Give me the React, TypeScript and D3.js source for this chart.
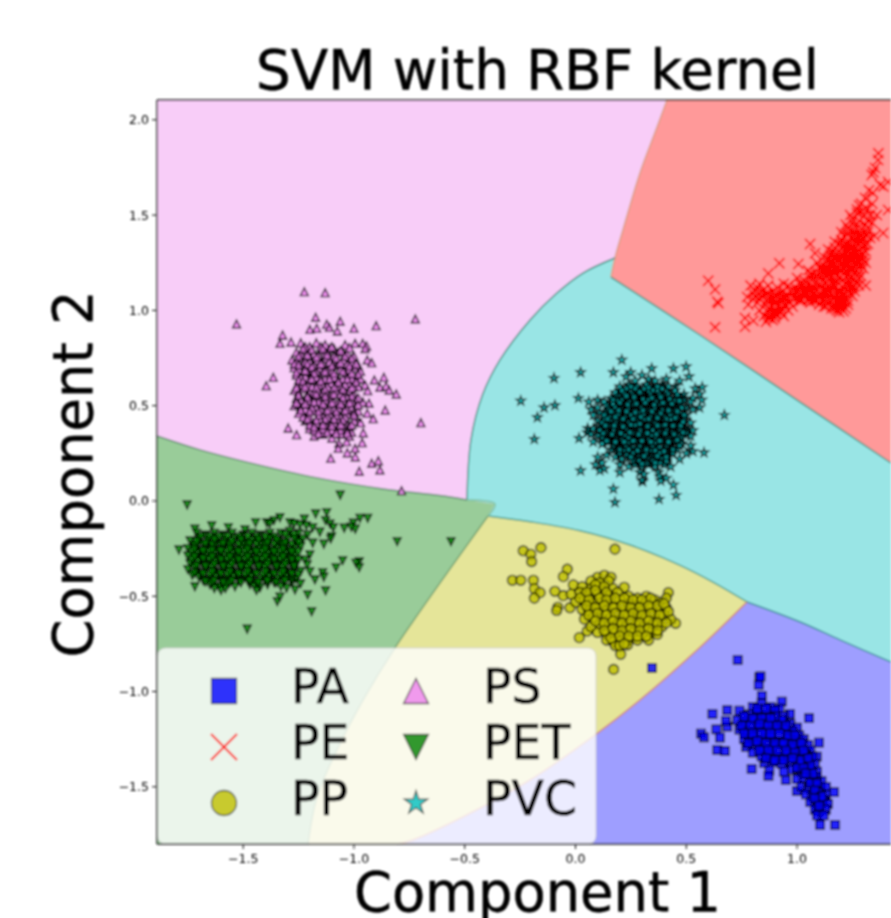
import React from "react";
import * as d3 from "d3";

type Pt = [number, number];

const xTicks = [-1.5, -1.0, -0.5, 0.0, 0.5, 1.0];
const yTicks = [-1.5, -1.0, -0.5, 0.0, 0.5, 1.0, 1.5, 2.0];

// decision region outlines (data units)
const redArc: Pt[] = [[0.413, 2.104], [0.363, 1.946], [0.291, 1.721], [0.214, 1.422], [0.178, 1.275], [0.16, 1.175]];
const redLine: Pt[] = [[0.16, 1.175], [0.562, 0.871], [1.014, 0.519], [1.424, 0.199]];
const cyanArc: Pt[] = [[0.178, 1.275], [0.034, 1.196], [-0.084, 1.091], [-0.205, 0.95], [-0.341, 0.74], [-0.42, 0.556], [-0.472, 0.32], [-0.49, 0.005]];
const cyanTip: Pt[] = [[-0.49, 0.005], [-0.363, -0.016], [-0.395, -0.079]];
const yellowTop: Pt[] = [[-0.395, -0.079], [-0.205, -0.109], [0.02, -0.156], [0.246, -0.231], [0.472, -0.338], [0.622, -0.427], [0.774, -0.53]];
const blueTop: Pt[] = [[0.774, -0.53], [1.014, -0.635], [1.194, -0.729], [1.424, -0.845]];
const yellowBlue: Pt[] = [[0.774, -0.53], [0.549, -0.782], [0.291, -1.044], [0.088, -1.228], [-0.205, -1.464], [-0.508, -1.658], [-0.734, -1.779], [-0.806, -1.8]];
const greenYellow: Pt[] = [[-0.395, -0.079], [-0.815, -0.771], [-0.959, -1.044], [-1.077, -1.306], [-1.167, -1.553], [-1.208, -1.8]];
const greenTop: Pt[] = [[-1.889, 0.341], [-1.695, 0.268], [-1.47, 0.2], [-1.167, 0.121], [-0.869, 0.063], [-0.567, 0.021], [-0.49, 0.005]];

const xMin = -1.889, xMax = 1.424, yMin = -1.8, yMax = 2.104;

const psPts: Pt[] = [
  [-1.224, 1.098], [-1.13, 1.093], [-1.53, 0.929], [-0.723, 0.955], [-1.173, 0.964], [-1.062, 0.943], [-1.123, 0.927], [-0.9, 0.92], [-1.0, 0.906], [-1.199, 0.9], [-1.168, 0.906], [-1.111, 0.911], [-1.075, 0.892], [-1.322, 0.871], [-1.334, 0.827], [-1.284, 0.834], [-0.995, 0.827], [-0.961, 0.827], [-0.943, 0.813], [-0.95, 0.8], [-0.94, 0.74], [-0.92, 0.726], [-1.364, 0.649], [-1.396, 0.605], [-0.908, 0.635], [-0.865, 0.649], [-0.95, 0.609], [-0.938, 0.579], [-0.883, 0.597], [-0.855, 0.603], [-0.841, 0.582], [-0.809, 0.561], [-0.932, 0.513], [-0.859, 0.477], [-0.698, 0.411], [-0.94, 0.46], [-0.913, 0.432], [-0.97, 0.411], [-1.297, 0.383], [-1.259, 0.348], [-0.958, 0.358], [-0.963, 0.306], [-1.068, 0.303], [-1.071, 0.276], [-1.033, 0.311], [-0.995, 0.276], [-1.03, 0.253], [-0.994, 0.232], [-1.105, 0.224], [-0.89, 0.211], [-0.92, 0.198], [-0.883, 0.163], [-0.976, 0.156], [-0.785, 0.054],
  [-1.24, 0.83], [-1.2, 0.81], [-1.17, 0.83], [-1.13, 0.82], [-1.09, 0.8], [-1.04, 0.82],
  [-1.26, 0.78], [-1.22, 0.79], [-1.18, 0.77], [-1.15, 0.79], [-1.11, 0.76], [-1.07, 0.78], [-1.03, 0.77], [-1.0, 0.76],
  [-1.28, 0.74], [-1.24, 0.75], [-1.2, 0.73], [-1.17, 0.74], [-1.13, 0.75], [-1.09, 0.72], [-1.05, 0.74], [-1.01, 0.73], [-0.98, 0.71],
  [-1.27, 0.7], [-1.23, 0.71], [-1.2, 0.69], [-1.16, 0.7], [-1.12, 0.69], [-1.08, 0.71], [-1.04, 0.68], [-1.0, 0.7], [-0.97, 0.68],
  [-1.26, 0.66], [-1.22, 0.65], [-1.19, 0.67], [-1.15, 0.65], [-1.11, 0.66], [-1.07, 0.64], [-1.03, 0.66], [-0.99, 0.65], [-0.97, 0.64],
  [-1.25, 0.62], [-1.21, 0.61], [-1.18, 0.63], [-1.14, 0.61], [-1.1, 0.62], [-1.06, 0.6], [-1.02, 0.62], [-0.98, 0.6],
  [-1.27, 0.58], [-1.23, 0.59], [-1.2, 0.57], [-1.16, 0.58], [-1.12, 0.56], [-1.08, 0.58], [-1.04, 0.57], [-1.0, 0.56],
  [-1.26, 0.54], [-1.22, 0.53], [-1.18, 0.55], [-1.15, 0.53], [-1.11, 0.54], [-1.07, 0.52], [-1.03, 0.54], [-0.99, 0.53], [-0.96, 0.52],
  [-1.27, 0.5], [-1.24, 0.49], [-1.2, 0.51], [-1.17, 0.49], [-1.13, 0.5], [-1.09, 0.48], [-1.05, 0.5], [-1.01, 0.49], [-0.98, 0.47],
  [-1.25, 0.46], [-1.21, 0.45], [-1.18, 0.47], [-1.14, 0.45], [-1.1, 0.46], [-1.06, 0.44], [-1.02, 0.46], [-0.99, 0.44],
  [-1.22, 0.42], [-1.19, 0.41], [-1.15, 0.43], [-1.11, 0.41], [-1.07, 0.42], [-1.03, 0.4], [-1.0, 0.42],
  [-1.2, 0.38], [-1.16, 0.37], [-1.12, 0.39], [-1.08, 0.37], [-1.04, 0.38], [-1.01, 0.36],
  [-1.18, 0.34], [-1.14, 0.35], [-1.1, 0.33], [-1.06, 0.35], [-1.02, 0.34],
];
const psCore: Pt[] = [
  [-1.22, 0.81], [-1.15, 0.81], [-1.11, 0.8], [-1.24, 0.77], [-1.2, 0.76], [-1.16, 0.76], [-1.13, 0.77], [-1.09, 0.76], [-1.05, 0.78], [-1.26, 0.73], [-1.22, 0.73], [-1.18, 0.71], [-1.14, 0.72], [-1.11, 0.73], [-1.07, 0.72], [-1.03, 0.72], [-1.25, 0.69], [-1.21, 0.68], [-1.17, 0.68], [-1.14, 0.68], [-1.1, 0.68], [-1.06, 0.69], [-1.02, 0.69], [-1.24, 0.65], [-1.2, 0.64], [-1.17, 0.65], [-1.13, 0.64], [-1.09, 0.65], [-1.05, 0.64], [-1.01, 0.64],
  [-1.23, 0.61], [-1.19, 0.6], [-1.16, 0.61], [-1.12, 0.6], [-1.08, 0.6], [-1.04, 0.61], [-1.0, 0.6], [-1.25, 0.57], [-1.21, 0.56], [-1.18, 0.57], [-1.14, 0.57], [-1.1, 0.56], [-1.06, 0.56], [-1.02, 0.58], [-1.24, 0.53], [-1.2, 0.53], [-1.16, 0.52], [-1.13, 0.53], [-1.09, 0.52], [-1.05, 0.53], [-1.01, 0.52],
  [-1.25, 0.51], [-1.22, 0.48], [-1.19, 0.49], [-1.15, 0.48], [-1.11, 0.48], [-1.07, 0.49], [-1.03, 0.48], [-1.0, 0.47], [-1.23, 0.44], [-1.2, 0.44], [-1.16, 0.45], [-1.12, 0.44], [-1.08, 0.45], [-1.04, 0.44], [-1.2, 0.4], [-1.17, 0.41], [-1.13, 0.4], [-1.09, 0.41], [-1.05, 0.4], [-1.02, 0.39], [-1.18, 0.37], [-1.14, 0.38], [-1.1, 0.37], [-1.06, 0.37], [-1.03, 0.37],
];
const psFill: Pt[] = [
  [-1.23, 0.8], [-1.19, 0.795], [-1.14, 0.8], [-1.1, 0.81], [-1.06, 0.79], [-1.02, 0.805], [-1.25, 0.76], [-1.21, 0.765], [-1.17, 0.755], [-1.12, 0.765], [-1.08, 0.75], [-1.04, 0.76], [-1.01, 0.75],
  [-1.27, 0.72], [-1.25, 0.715], [-1.21, 0.72], [-1.19, 0.705], [-1.15, 0.72], [-1.1, 0.71], [-1.06, 0.725], [-1.02, 0.71], [-0.99, 0.72], [-1.26, 0.675], [-1.22, 0.685], [-1.18, 0.67], [-1.13, 0.68], [-1.09, 0.67], [-1.05, 0.68], [-1.01, 0.67], [-0.98, 0.665],
  [-1.25, 0.635], [-1.23, 0.63], [-1.19, 0.64], [-1.15, 0.63], [-1.11, 0.64], [-1.07, 0.625], [-1.03, 0.64], [-0.99, 0.625], [-1.26, 0.595], [-1.22, 0.6], [-1.17, 0.595], [-1.13, 0.585], [-1.09, 0.595], [-1.05, 0.585], [-1.01, 0.595],
  [-1.25, 0.555], [-1.21, 0.545], [-1.17, 0.56], [-1.13, 0.55], [-1.09, 0.56], [-1.05, 0.545], [-1.01, 0.55], [-0.98, 0.54], [-1.26, 0.515], [-1.22, 0.51], [-1.18, 0.52], [-1.14, 0.51], [-1.1, 0.515], [-1.06, 0.51], [-1.02, 0.515], [-0.98, 0.505],
  [-1.24, 0.475], [-1.2, 0.47], [-1.16, 0.47], [-1.12, 0.475], [-1.08, 0.47], [-1.04, 0.475], [-1.0, 0.45], [-1.21, 0.43], [-1.17, 0.425], [-1.13, 0.43], [-1.09, 0.43], [-1.05, 0.425], [-1.01, 0.4], [-1.18, 0.39], [-1.14, 0.4], [-1.1, 0.395], [-1.06, 0.4], [-1.03, 0.355], [-1.16, 0.355], [-1.12, 0.36], [-1.08, 0.355],
];

const pePts: Pt[] = [
  [1.367, 1.824], [1.366, 1.789], [1.352, 1.747], [1.337, 1.71], [1.411, 1.674], [1.375, 1.658], [1.343, 1.616], [1.307, 1.59], [1.411, 1.527], [1.36, 1.5], [1.389, 1.406], [1.345, 1.725], [1.39, 1.65], [1.325, 1.63], [1.29, 1.56],
  [0.599, 1.156], [0.63, 1.11], [0.645, 1.037], [0.64, 1.045], [0.63, 0.911], [0.765, 0.914], [0.803, 0.946], [0.765, 0.96], [0.92, 1.247], [1.006, 1.243], [1.059, 1.348], [0.87, 1.194], [1.081, 1.3],
  [1.28, 1.55], [1.31, 1.54], [1.34, 1.56], [1.24, 1.5], [1.27, 1.51], [1.3, 1.49], [1.33, 1.5], [1.22, 1.45], [1.25, 1.46], [1.28, 1.44], [1.31, 1.45], [1.34, 1.46],
  [1.2, 1.41], [1.23, 1.4], [1.26, 1.42], [1.29, 1.4], [1.32, 1.41], [1.35, 1.39], [1.17, 1.36], [1.2, 1.37], [1.23, 1.35], [1.26, 1.37], [1.29, 1.36], [1.32, 1.35],
  [1.14, 1.32], [1.17, 1.33], [1.19, 1.31], [1.22, 1.32], [1.25, 1.3], [1.28, 1.32], [1.31, 1.31], [1.12, 1.28], [1.15, 1.29], [1.18, 1.27], [1.21, 1.29], [1.24, 1.27], [1.27, 1.28], [1.3, 1.27],
  [1.09, 1.25], [1.12, 1.24], [1.15, 1.25], [1.18, 1.23], [1.21, 1.25], [1.24, 1.23], [1.27, 1.24], [1.3, 1.22], [1.05, 1.21], [1.08, 1.2], [1.11, 1.21], [1.14, 1.19], [1.17, 1.2], [1.2, 1.21], [1.23, 1.19], [1.26, 1.2], [1.29, 1.18],
  [1.0, 1.17], [1.03, 1.16], [1.06, 1.17], [1.09, 1.15], [1.12, 1.16], [1.15, 1.17], [1.18, 1.15], [1.21, 1.16], [1.24, 1.14], [1.27, 1.15], [1.31, 1.13],
  [0.96, 1.13], [0.99, 1.12], [1.02, 1.13], [1.05, 1.11], [1.08, 1.12], [1.11, 1.13], [1.14, 1.11], [1.17, 1.12], [1.2, 1.1], [1.23, 1.11], [1.26, 1.1],
  [0.92, 1.09], [0.95, 1.08], [0.98, 1.09], [1.01, 1.07], [1.04, 1.08], [1.07, 1.09], [1.1, 1.07], [1.13, 1.08], [1.16, 1.06], [1.19, 1.07], [1.22, 1.06],
  [0.93, 1.05], [0.97, 1.04], [1.02, 1.05], [1.06, 1.04], [1.1, 1.03], [1.14, 1.04], [1.17, 1.03], [1.2, 1.04], [1.23, 1.03], [1.18, 1.0], [1.2, 1.01], [1.155, 1.01], [1.195, 1.02],
  [0.79, 1.13], [0.83, 1.14], [0.87, 1.13], [0.81, 1.1], [0.85, 1.11], [0.89, 1.1], [0.775, 1.07], [0.8, 1.06], [0.84, 1.08], [0.88, 1.07], [0.91, 1.12], [0.94, 1.14], [0.78, 1.03], [0.82, 1.04], [0.86, 1.05], [0.9, 1.04],
  [0.83, 1.0], [0.87, 1.01], [0.9, 1.0], [0.93, 1.01], [0.96, 1.0], [0.85, 0.97], [0.88, 0.96], [0.91, 0.98], [0.94, 0.97], [0.86, 0.94], [0.89, 0.95],
];
const peCore: Pt[] = [
  [1.27, 1.53], [1.29, 1.52], [1.32, 1.53], [1.25, 1.48], [1.28, 1.47], [1.32, 1.47], [1.23, 1.43], [1.26, 1.44], [1.29, 1.43], [1.32, 1.43], [1.21, 1.39], [1.24, 1.38], [1.27, 1.39], [1.3, 1.38], [1.33, 1.38],
  [1.19, 1.35], [1.21, 1.34], [1.24, 1.33], [1.27, 1.35], [1.3, 1.34], [1.16, 1.31], [1.18, 1.3], [1.21, 1.31], [1.23, 1.31], [1.26, 1.3], [1.29, 1.3], [1.14, 1.27], [1.16, 1.26], [1.19, 1.26], [1.22, 1.27], [1.25, 1.26], [1.28, 1.26], [1.31, 1.25],
  [1.11, 1.23], [1.13, 1.22], [1.16, 1.23], [1.19, 1.21], [1.22, 1.23], [1.25, 1.21], [1.28, 1.22], [1.07, 1.19], [1.09, 1.18], [1.12, 1.19], [1.15, 1.19], [1.18, 1.18], [1.21, 1.19], [1.24, 1.17], [1.27, 1.18],
  [1.02, 1.15], [1.05, 1.14], [1.08, 1.14], [1.1, 1.14], [1.13, 1.14], [1.16, 1.14], [1.19, 1.14], [1.22, 1.14], [1.25, 1.12], [1.28, 1.13], [0.98, 1.11], [1.0, 1.1], [1.03, 1.1], [1.06, 1.1], [1.09, 1.1], [1.12, 1.1], [1.15, 1.09], [1.18, 1.09], [1.21, 1.08], [1.24, 1.09],
  [0.95, 1.06], [0.99, 1.06], [1.03, 1.07], [1.06, 1.06], [1.09, 1.05], [1.12, 1.06], [1.15, 1.05], [1.18, 1.05], [1.21, 1.05], [1.12, 1.02], [1.16, 1.02], [1.19, 1.03], [1.22, 1.01],
  [0.89, 1.06], [0.93, 1.07], [0.86, 1.09], [0.9, 1.08], [0.94, 1.1], [0.91, 1.02], [0.94, 1.03], [0.89, 0.99], [0.92, 0.99], [0.88, 0.98], [0.9, 0.96], [0.98, 1.02],
];
const peFill: Pt[] = [
  [1.255, 1.39], [1.285, 1.385], [1.315, 1.39], [1.22, 1.345], [1.25, 1.34], [1.28, 1.345], [1.31, 1.34], [1.2, 1.3], [1.235, 1.295], [1.27, 1.3], [1.3, 1.295], [1.17, 1.28], [1.2, 1.275], [1.23, 1.28], [1.26, 1.27], [1.29, 1.28],
  [1.13, 1.25], [1.17, 1.245], [1.2, 1.24], [1.23, 1.245], [1.26, 1.25], [1.29, 1.24], [1.1, 1.225], [1.14, 1.22], [1.17, 1.215], [1.21, 1.22], [1.24, 1.21], [1.27, 1.21], [1.06, 1.19], [1.1, 1.195], [1.13, 1.175], [1.16, 1.18], [1.19, 1.17], [1.22, 1.175], [1.25, 1.18], [1.28, 1.165],
  [1.01, 1.14], [1.04, 1.15], [1.07, 1.13], [1.11, 1.125], [1.14, 1.13], [1.17, 1.135], [1.2, 1.125], [1.23, 1.13], [1.26, 1.125], [0.97, 1.1], [1.01, 1.11], [1.04, 1.095], [1.07, 1.105], [1.1, 1.09], [1.13, 1.095], [1.16, 1.085], [1.19, 1.095], [1.22, 1.085], [1.25, 1.075],
  [0.94, 1.07], [0.98, 1.07], [1.01, 1.05], [1.05, 1.06], [1.08, 1.05], [1.11, 1.05], [1.14, 1.06], [1.17, 1.07], [1.2, 1.055], [1.23, 1.05], [1.13, 1.02], [1.17, 1.01], [1.2, 1.03], [1.21, 0.995], [1.19, 0.99],
  [0.81, 1.07], [0.84, 1.1], [0.87, 1.09], [0.83, 1.06], [0.87, 1.06], [0.9, 1.06], [0.8, 1.09], [0.82, 1.12], [0.86, 1.03], [0.89, 1.02], [0.92, 1.03], [0.87, 0.99], [0.9, 0.98], [0.87, 0.96], [0.93, 0.99], [0.95, 1.03],
];

const ppPts: Pt[] = [
  [-0.236, -0.261], [-0.156, -0.245], [-0.202, -0.28], [-0.198, -0.318], [0.178, -0.253], [-0.037, -0.358], [-0.055, -0.397], [-0.285, -0.416], [-0.247, -0.416], [-0.19, -0.416], [-0.186, -0.46], [-0.16, -0.481], [-0.186, -0.51], [-0.093, -0.474], [-0.055, -0.497], [-0.08, -0.558], [-0.085, -0.575], [-0.025, -0.56], [0.017, -0.717], [0.053, -0.682], [0.204, -0.804], [0.172, -0.884], [0.22, -0.453], [0.419, -0.481], [0.452, -0.642],
  [0.1, -0.4], [0.13, -0.39], [0.16, -0.4], [0.07, -0.42], [0.11, -0.43], [0.15, -0.42], [-0.01, -0.44], [0.03, -0.45], [0.07, -0.46], [0.12, -0.47], [0.17, -0.46], [-0.02, -0.49], [0.02, -0.48], [0.06, -0.5], [0.1, -0.49], [0.15, -0.5], [0.19, -0.48], [0.24, -0.5], [0.28, -0.51], [0.32, -0.5],
  [0.0, -0.53], [0.04, -0.52], [0.08, -0.54], [0.12, -0.53], [0.16, -0.54], [0.2, -0.52], [0.24, -0.54], [0.28, -0.55], [0.32, -0.53], [0.36, -0.52], [0.39, -0.53], [0.41, -0.51],
  [0.03, -0.57], [0.06, -0.58], [0.1, -0.57], [0.14, -0.58], [0.18, -0.56], [0.22, -0.58], [0.26, -0.57], [0.3, -0.58], [0.34, -0.56], [0.38, -0.58], [0.41, -0.56],
  [0.04, -0.62], [0.08, -0.61], [0.12, -0.62], [0.16, -0.61], [0.2, -0.62], [0.24, -0.6], [0.28, -0.62], [0.32, -0.61], [0.36, -0.62], [0.4, -0.6], [0.43, -0.62],
  [0.07, -0.66], [0.11, -0.65], [0.15, -0.66], [0.19, -0.65], [0.23, -0.66], [0.27, -0.65], [0.31, -0.66], [0.35, -0.65], [0.39, -0.66],
  [0.1, -0.69], [0.14, -0.7], [0.18, -0.69], [0.22, -0.7], [0.26, -0.69], [0.3, -0.7], [0.34, -0.69], [0.37, -0.7],
  [0.14, -0.73], [0.17, -0.74], [0.2, -0.74], [0.24, -0.73], [0.28, -0.73], [0.33, -0.73], [0.18, -0.76], [0.2, -0.76], [0.235, -0.755],
];
const ppCore: Pt[] = [
  [0.09, -0.44], [0.13, -0.45], [0.05, -0.48], [0.09, -0.47], [0.14, -0.48], [0.02, -0.51], [0.06, -0.52], [0.11, -0.51], [0.14, -0.52], [0.18, -0.51], [0.22, -0.51], [0.26, -0.52], [0.3, -0.52], [0.34, -0.51],
  [0.05, -0.55], [0.09, -0.56], [0.13, -0.55], [0.17, -0.56], [0.21, -0.55], [0.25, -0.56], [0.29, -0.56], [0.33, -0.55], [0.37, -0.55], [0.4, -0.54], [0.06, -0.6], [0.1, -0.59], [0.14, -0.6], [0.18, -0.59], [0.22, -0.6], [0.26, -0.59], [0.3, -0.6], [0.34, -0.59], [0.38, -0.6], [0.42, -0.58],
  [0.09, -0.63], [0.13, -0.64], [0.17, -0.63], [0.21, -0.64], [0.25, -0.63], [0.29, -0.64], [0.33, -0.63], [0.37, -0.64], [0.41, -0.64], [0.13, -0.68], [0.17, -0.67], [0.21, -0.68], [0.25, -0.67], [0.29, -0.68], [0.33, -0.67], [0.37, -0.68], [0.16, -0.72], [0.2, -0.71], [0.24, -0.71], [0.28, -0.71], [0.32, -0.71], [0.22, -0.75],
];

const petPts: Pt[] = [
  [-1.753, -0.021], [-1.062, 0.03], [-1.79, -0.257], [-1.482, -0.673], [-1.191, -0.581], [-1.346, -0.528], [-1.334, -0.505], [-1.209, -0.493], [-1.128, -0.472], [-0.805, -0.213], [-0.562, -0.213], [-0.973, -0.091], [-0.938, -0.091], [-1.003, -0.117], [-1.044, -0.143], [-0.994, -0.148], [-1.012, -0.138], [-1.173, -0.068], [-1.123, -0.061], [-1.128, -0.103], [-1.108, -0.121], [-1.093, -0.14], [-1.101, -0.187], [-1.105, -0.2], [-1.154, -0.164], [-1.136, -0.227], [-1.186, -0.222], [-1.186, -0.14], [-1.051, -0.313], [-1.081, -0.35], [-0.976, -0.318], [-0.991, -0.327], [-0.976, -0.35], [-1.199, -0.283], [-1.221, -0.31], [-1.211, -0.336], [-1.199, -0.371], [-1.141, -0.376], [-1.136, -0.4], [-1.176, -0.414], [-1.241, -0.435], [-1.266, -0.467], [-1.304, -0.458], [-1.424, -0.455], [-1.718, -0.45], [-1.537, -0.45],
  [-1.718, -0.148], [-1.642, -0.131], [-1.567, -0.14], [-1.492, -0.152], [-1.444, -0.114], [-1.394, -0.114], [-1.334, -0.088], [-1.361, -0.103], [-1.289, -0.114], [-1.224, -0.096], [-1.244, -0.126], [-1.27, -0.12], [-1.38, -0.12], [-1.215, -0.13],
  [-1.71, -0.17], [-1.67, -0.18], [-1.63, -0.17], [-1.59, -0.18], [-1.55, -0.17], [-1.5, -0.18], [-1.46, -0.17], [-1.42, -0.18], [-1.38, -0.17], [-1.33, -0.17], [-1.29, -0.16], [-1.25, -0.17], [-1.21, -0.18],
  [-1.74, -0.21], [-1.7, -0.2], [-1.66, -0.21], [-1.62, -0.22], [-1.58, -0.21], [-1.54, -0.2], [-1.5, -0.22], [-1.46, -0.21], [-1.42, -0.22], [-1.38, -0.2], [-1.34, -0.21], [-1.3, -0.2], [-1.26, -0.21], [-1.23, -0.2],
  [-1.75, -0.25], [-1.71, -0.24], [-1.67, -0.25], [-1.63, -0.24], [-1.59, -0.25], [-1.55, -0.24], [-1.51, -0.25], [-1.47, -0.24], [-1.43, -0.25], [-1.39, -0.24], [-1.35, -0.25], [-1.31, -0.24], [-1.27, -0.25], [-1.24, -0.24],
  [-1.75, -0.29], [-1.71, -0.28], [-1.67, -0.29], [-1.63, -0.28], [-1.59, -0.29], [-1.55, -0.28], [-1.51, -0.29], [-1.47, -0.28], [-1.43, -0.29], [-1.39, -0.28], [-1.35, -0.29], [-1.31, -0.28], [-1.27, -0.29],
  [-1.74, -0.33], [-1.7, -0.32], [-1.66, -0.33], [-1.62, -0.32], [-1.58, -0.33], [-1.54, -0.32], [-1.5, -0.33], [-1.46, -0.32], [-1.42, -0.33], [-1.38, -0.32], [-1.34, -0.33], [-1.3, -0.32], [-1.26, -0.33],
  [-1.75, -0.36], [-1.71, -0.37], [-1.67, -0.36], [-1.63, -0.37], [-1.59, -0.36], [-1.55, -0.37], [-1.51, -0.36], [-1.47, -0.37], [-1.43, -0.36], [-1.39, -0.37], [-1.35, -0.36], [-1.31, -0.37], [-1.27, -0.36], [-1.24, -0.37],
  [-1.7, -0.4], [-1.66, -0.41], [-1.62, -0.4], [-1.58, -0.41], [-1.54, -0.4], [-1.5, -0.41], [-1.46, -0.4], [-1.42, -0.41], [-1.38, -0.4], [-1.34, -0.41], [-1.3, -0.4], [-1.26, -0.41],
  [-1.65, -0.44], [-1.61, -0.45], [-1.57, -0.44], [-1.47, -0.44], [-1.45, -0.45], [-1.39, -0.44], [-1.33, -0.45], [-1.28, -0.43], [-1.63, -0.46], [-1.6, -0.47], [-1.58, -0.46], [-1.44, -0.47],
];
const petCore: Pt[] = [
  [-1.69, -0.19], [-1.65, -0.19], [-1.61, -0.19], [-1.57, -0.19], [-1.52, -0.19], [-1.48, -0.19], [-1.44, -0.19], [-1.4, -0.19], [-1.36, -0.19], [-1.31, -0.18], [-1.27, -0.18], [-1.72, -0.23], [-1.68, -0.23], [-1.64, -0.23], [-1.6, -0.23], [-1.56, -0.23], [-1.52, -0.23], [-1.48, -0.23], [-1.44, -0.23], [-1.4, -0.23], [-1.36, -0.23], [-1.32, -0.23], [-1.28, -0.23], [-1.25, -0.22],
  [-1.73, -0.27], [-1.69, -0.26], [-1.65, -0.27], [-1.61, -0.26], [-1.57, -0.27], [-1.53, -0.26], [-1.49, -0.27], [-1.45, -0.26], [-1.41, -0.27], [-1.37, -0.26], [-1.33, -0.27], [-1.29, -0.26], [-1.25, -0.27], [-1.73, -0.31], [-1.69, -0.3], [-1.65, -0.31], [-1.61, -0.3], [-1.57, -0.31], [-1.53, -0.3], [-1.49, -0.31], [-1.45, -0.3], [-1.41, -0.31], [-1.37, -0.3], [-1.33, -0.31], [-1.29, -0.3], [-1.25, -0.31],
  [-1.72, -0.35], [-1.68, -0.34], [-1.64, -0.35], [-1.6, -0.34], [-1.56, -0.35], [-1.52, -0.34], [-1.48, -0.35], [-1.44, -0.34], [-1.4, -0.35], [-1.36, -0.34], [-1.32, -0.35], [-1.28, -0.34], [-1.73, -0.39], [-1.69, -0.38], [-1.65, -0.39], [-1.61, -0.38], [-1.57, -0.39], [-1.53, -0.38], [-1.49, -0.39], [-1.45, -0.38], [-1.41, -0.39], [-1.37, -0.38], [-1.33, -0.39], [-1.29, -0.38], [-1.25, -0.39],
  [-1.68, -0.42], [-1.64, -0.43], [-1.6, -0.42], [-1.56, -0.43], [-1.52, -0.42], [-1.48, -0.42], [-1.44, -0.43], [-1.4, -0.42], [-1.36, -0.43], [-1.32, -0.42], [-1.28, -0.41],
];
const petFill: Pt[] = [
  [-1.71, -0.215], [-1.67, -0.225], [-1.63, -0.205], [-1.59, -0.225], [-1.55, -0.215], [-1.51, -0.205], [-1.47, -0.225], [-1.43, -0.205], [-1.39, -0.22], [-1.35, -0.205], [-1.31, -0.22], [-1.27, -0.2],
  [-1.72, -0.255], [-1.68, -0.265], [-1.64, -0.26], [-1.6, -0.265], [-1.56, -0.255], [-1.52, -0.27], [-1.48, -0.255], [-1.44, -0.27], [-1.4, -0.255], [-1.36, -0.27], [-1.32, -0.255], [-1.28, -0.27],
  [-1.72, -0.295], [-1.68, -0.305], [-1.64, -0.295], [-1.6, -0.31], [-1.56, -0.295], [-1.52, -0.31], [-1.48, -0.295], [-1.44, -0.31], [-1.4, -0.295], [-1.36, -0.31], [-1.32, -0.295], [-1.28, -0.31],
  [-1.71, -0.34], [-1.67, -0.345], [-1.63, -0.335], [-1.59, -0.345], [-1.55, -0.335], [-1.51, -0.345], [-1.47, -0.335], [-1.43, -0.345], [-1.39, -0.335], [-1.35, -0.345], [-1.31, -0.335], [-1.27, -0.345],
  [-1.72, -0.38], [-1.68, -0.385], [-1.64, -0.375], [-1.6, -0.385], [-1.56, -0.375], [-1.52, -0.385], [-1.48, -0.375], [-1.44, -0.385], [-1.4, -0.375], [-1.36, -0.385], [-1.32, -0.375], [-1.28, -0.385],
  [-1.67, -0.425], [-1.63, -0.42], [-1.59, -0.43], [-1.55, -0.42], [-1.51, -0.43], [-1.47, -0.42], [-1.43, -0.43], [-1.39, -0.42], [-1.35, -0.43], [-1.31, -0.42],
];

const pvcPts: Pt[] = [
  [0.209, 0.74], [0.023, 0.675], [0.171, 0.675], [-0.097, 0.645], [0.344, 0.696], [0.442, 0.696], [0.499, 0.705], [0.512, 0.652], [0.249, 0.675], [0.228, 0.652], [0.572, 0.597], [-0.247, 0.525], [0.013, 0.539], [-0.093, 0.502], [-0.142, 0.49], [-0.172, 0.439], [-0.186, 0.324], [0.016, 0.329], [0.055, 0.381], [0.053, 0.358], [0.672, 0.451], [0.58, 0.253], [0.023, 0.159], [0.171, 0.063], [0.178, -0.007], [0.377, 0.009], [0.442, 0.084], [0.454, 0.031], [0.303, 0.101], [0.385, 0.105],
  [0.3, 0.66], [0.33, 0.64], [0.36, 0.63], [0.27, 0.63], [0.41, 0.64], [0.47, 0.63], [0.45, 0.6], [0.54, 0.59], [0.56, 0.56], [0.53, 0.54], [0.57, 0.53], [0.56, 0.49],
  [0.2, 0.6], [0.24, 0.61], [0.28, 0.6], [0.32, 0.61], [0.35, 0.6], [0.39, 0.61], [0.42, 0.6], [0.18, 0.57], [0.21, 0.58], [0.25, 0.57], [0.29, 0.58], [0.33, 0.57], [0.37, 0.58], [0.41, 0.57], [0.45, 0.58], [0.49, 0.56],
  [0.06, 0.52], [0.1, 0.53], [0.13, 0.52], [0.16, 0.54], [0.19, 0.55], [0.22, 0.54], [0.25, 0.54], [0.28, 0.55], [0.31, 0.54], [0.34, 0.55], [0.37, 0.54], [0.4, 0.55], [0.43, 0.54], [0.46, 0.55], [0.49, 0.53], [0.52, 0.52],
  [0.07, 0.48], [0.1, 0.49], [0.14, 0.5], [0.17, 0.51], [0.2, 0.5], [0.23, 0.51], [0.26, 0.5], [0.29, 0.51], [0.32, 0.5], [0.35, 0.51], [0.38, 0.5], [0.41, 0.51], [0.44, 0.5], [0.47, 0.51], [0.5, 0.49], [0.53, 0.48],
  [0.08, 0.45], [0.11, 0.46], [0.14, 0.47], [0.17, 0.46], [0.2, 0.47], [0.23, 0.46], [0.26, 0.47], [0.29, 0.46], [0.32, 0.47], [0.35, 0.46], [0.38, 0.47], [0.41, 0.46], [0.44, 0.47], [0.47, 0.46], [0.5, 0.45],
  [0.1, 0.42], [0.13, 0.43], [0.16, 0.42], [0.19, 0.43], [0.22, 0.42], [0.25, 0.43], [0.28, 0.42], [0.31, 0.43], [0.34, 0.42], [0.37, 0.43], [0.4, 0.42], [0.43, 0.43], [0.46, 0.42], [0.49, 0.43], [0.52, 0.41],
  [0.08, 0.38], [0.11, 0.39], [0.14, 0.38], [0.17, 0.39], [0.2, 0.38], [0.23, 0.39], [0.26, 0.38], [0.29, 0.39], [0.32, 0.38], [0.35, 0.39], [0.38, 0.38], [0.41, 0.39], [0.44, 0.38], [0.47, 0.39], [0.5, 0.38], [0.53, 0.37],
  [0.07, 0.35], [0.1, 0.34], [0.13, 0.35], [0.16, 0.34], [0.19, 0.35], [0.22, 0.34], [0.25, 0.35], [0.28, 0.34], [0.31, 0.35], [0.34, 0.34], [0.37, 0.35], [0.4, 0.34], [0.43, 0.35], [0.46, 0.34], [0.49, 0.35], [0.52, 0.34],
  [0.08, 0.31], [0.12, 0.3], [0.15, 0.31], [0.18, 0.3], [0.21, 0.31], [0.24, 0.3], [0.27, 0.31], [0.3, 0.3], [0.33, 0.31], [0.36, 0.3], [0.39, 0.31], [0.42, 0.3], [0.45, 0.31], [0.48, 0.3], [0.52, 0.29],
  [0.16, 0.27], [0.19, 0.26], [0.22, 0.27], [0.25, 0.26], [0.28, 0.27], [0.31, 0.26], [0.34, 0.27], [0.37, 0.26], [0.4, 0.27], [0.43, 0.26], [0.46, 0.27], [0.53, 0.26], [0.5, 0.25],
  [0.1, 0.23], [0.14, 0.24], [0.18, 0.23], [0.21, 0.22], [0.24, 0.23], [0.27, 0.22], [0.3, 0.23], [0.33, 0.22], [0.36, 0.23], [0.39, 0.22], [0.42, 0.23], [0.47, 0.22],
  [0.09, 0.19], [0.12, 0.2], [0.2, 0.19], [0.24, 0.18], [0.27, 0.19], [0.3, 0.18], [0.33, 0.19], [0.36, 0.18], [0.4, 0.19], [0.43, 0.18], [0.11, 0.16], [0.13, 0.17], [0.2, 0.15], [0.29, 0.15], [0.31, 0.14], [0.375, 0.15], [0.38, 0.13], [0.41, 0.12], [0.3, 0.11],
];
const pvcCore: Pt[] = [
  [0.23, 0.59], [0.27, 0.59], [0.31, 0.59], [0.35, 0.58], [0.39, 0.59], [0.19, 0.53], [0.22, 0.56], [0.26, 0.56], [0.3, 0.56], [0.34, 0.56], [0.38, 0.56], [0.42, 0.56], [0.46, 0.56], [0.17, 0.53], [0.21, 0.53], [0.24, 0.52], [0.27, 0.53], [0.3, 0.52], [0.33, 0.53], [0.36, 0.52], [0.39, 0.53], [0.42, 0.52], [0.45, 0.53], [0.48, 0.51],
  [0.15, 0.48], [0.18, 0.49], [0.21, 0.48], [0.24, 0.49], [0.27, 0.48], [0.3, 0.49], [0.33, 0.48], [0.36, 0.49], [0.39, 0.48], [0.42, 0.49], [0.45, 0.48], [0.48, 0.49], [0.13, 0.45], [0.16, 0.44], [0.19, 0.45], [0.22, 0.44], [0.25, 0.45], [0.28, 0.44], [0.31, 0.45], [0.34, 0.44], [0.37, 0.45], [0.4, 0.44], [0.43, 0.45], [0.46, 0.44], [0.49, 0.45],
  [0.12, 0.41], [0.15, 0.4], [0.18, 0.41], [0.21, 0.4], [0.24, 0.41], [0.27, 0.4], [0.3, 0.41], [0.33, 0.4], [0.36, 0.41], [0.39, 0.4], [0.42, 0.41], [0.45, 0.4], [0.48, 0.41], [0.11, 0.37], [0.14, 0.36], [0.17, 0.37], [0.2, 0.36], [0.23, 0.37], [0.26, 0.36], [0.29, 0.37], [0.32, 0.36], [0.35, 0.37], [0.38, 0.36], [0.41, 0.37], [0.44, 0.36], [0.47, 0.37], [0.5, 0.36],
  [0.12, 0.33], [0.15, 0.32], [0.18, 0.33], [0.21, 0.32], [0.24, 0.33], [0.27, 0.32], [0.3, 0.33], [0.33, 0.32], [0.36, 0.33], [0.39, 0.32], [0.42, 0.33], [0.45, 0.32], [0.48, 0.33], [0.17, 0.29], [0.2, 0.28], [0.23, 0.29], [0.26, 0.28], [0.29, 0.29], [0.32, 0.28], [0.35, 0.29], [0.38, 0.28], [0.41, 0.29], [0.44, 0.28], [0.47, 0.29], [0.2, 0.25], [0.23, 0.24], [0.26, 0.25], [0.29, 0.24], [0.32, 0.25], [0.35, 0.24], [0.38, 0.25], [0.41, 0.24], [0.44, 0.25], [0.26, 0.21], [0.29, 0.21], [0.32, 0.2], [0.35, 0.21], [0.38, 0.2], [0.41, 0.21],
];
const pvcFill: Pt[] = [
  [0.25, 0.6], [0.29, 0.57], [0.33, 0.595], [0.37, 0.6], [0.23, 0.55], [0.265, 0.545], [0.305, 0.535], [0.345, 0.54], [0.385, 0.545], [0.425, 0.535], [0.2, 0.515], [0.235, 0.505], [0.275, 0.51], [0.315, 0.515], [0.355, 0.505], [0.395, 0.515], [0.435, 0.51], [0.47, 0.525],
  [0.16, 0.47], [0.195, 0.475], [0.23, 0.47], [0.27, 0.465], [0.305, 0.475], [0.345, 0.47], [0.385, 0.46], [0.42, 0.475], [0.46, 0.47], [0.145, 0.43], [0.18, 0.44], [0.215, 0.43], [0.26, 0.43], [0.295, 0.44], [0.33, 0.43], [0.37, 0.435], [0.41, 0.43], [0.45, 0.435], [0.485, 0.415],
  [0.135, 0.395], [0.175, 0.395], [0.215, 0.39], [0.25, 0.4], [0.29, 0.405], [0.325, 0.39], [0.37, 0.395], [0.405, 0.4], [0.44, 0.395], [0.475, 0.395], [0.125, 0.355], [0.165, 0.35], [0.205, 0.355], [0.245, 0.36], [0.285, 0.35], [0.325, 0.355], [0.365, 0.35], [0.405, 0.355], [0.445, 0.35], [0.485, 0.36],
  [0.14, 0.315], [0.18, 0.31], [0.22, 0.31], [0.26, 0.315], [0.3, 0.315], [0.34, 0.31], [0.38, 0.315], [0.42, 0.31], [0.46, 0.32], [0.2, 0.27], [0.24, 0.27], [0.28, 0.265], [0.32, 0.27], [0.36, 0.265], [0.4, 0.26], [0.44, 0.27], [0.25, 0.23], [0.31, 0.235], [0.37, 0.235], [0.41, 0.23], [0.3, 0.195], [0.36, 0.2],
];

const paPts: Pt[] = [
  [0.732, -0.834], [0.83, -0.925], [0.827, -0.965], [0.835, -0.92], [0.345, -0.876], [0.618, -1.117], [0.685, -1.097], [0.567, -1.221], [0.58, -1.24], [0.636, -1.198], [0.652, -1.242], [0.64, -1.306], [0.674, -1.312], [0.685, -1.184], [0.679, -1.154], [0.795, -1.406], [0.852, -1.376], [0.875, -1.415], [0.871, -1.443], [0.949, -1.464], [1.054, -1.14], [0.931, -1.053], [0.968, -1.117], [1.099, -1.268], [1.089, -1.341], [1.167, -1.528], [1.172, -1.7], [1.104, -1.7], [0.999, -1.522], [0.841, -1.023],
  [0.8, -1.08], [0.84, -1.06], [0.88, -1.08], [0.92, -1.09], [0.74, -1.1], [0.78, -1.12], [0.82, -1.11], [0.86, -1.12], [0.9, -1.1], [0.94, -1.13],
  [0.73, -1.15], [0.77, -1.16], [0.81, -1.15], [0.85, -1.17], [0.89, -1.16], [0.93, -1.15], [0.97, -1.17], [1.0, -1.19],
  [0.74, -1.2], [0.78, -1.21], [0.82, -1.19], [0.86, -1.21], [0.9, -1.2], [0.94, -1.2], [0.98, -1.21], [1.01, -1.23],
  [0.76, -1.25], [0.8, -1.24], [0.84, -1.25], [0.88, -1.24], [0.92, -1.26], [0.96, -1.25], [1.0, -1.26], [1.03, -1.25],
  [0.77, -1.29], [0.81, -1.28], [0.85, -1.3], [0.89, -1.29], [0.93, -1.28], [0.97, -1.3], [1.01, -1.29], [1.05, -1.28], [1.06, -1.31],
  [0.8, -1.32], [0.84, -1.34], [0.88, -1.33], [0.92, -1.34], [0.96, -1.33], [1.0, -1.34], [1.04, -1.33], [1.07, -1.34],
  [0.89, -1.37], [0.93, -1.38], [0.97, -1.37], [1.01, -1.38], [1.05, -1.37], [1.08, -1.38],
  [0.94, -1.42], [0.98, -1.41], [1.02, -1.42], [1.06, -1.41], [1.09, -1.42], [1.0, -1.46], [1.03, -1.45], [1.06, -1.46], [1.09, -1.45], [1.11, -1.47],
  [1.02, -1.5], [1.05, -1.51], [1.08, -1.49], [1.11, -1.51], [1.13, -1.5], [1.04, -1.54], [1.07, -1.55], [1.1, -1.53], [1.13, -1.54],
  [1.06, -1.58], [1.09, -1.59], [1.12, -1.57], [1.14, -1.59], [1.08, -1.62], [1.1, -1.63], [1.13, -1.62], [1.09, -1.65], [1.12, -1.65],
];
const paCore: Pt[] = [
  [0.82, -1.09], [0.86, -1.09], [0.9, -1.13], [0.76, -1.13], [0.8, -1.14], [0.84, -1.14], [0.88, -1.14], [0.75, -1.18], [0.79, -1.18], [0.83, -1.17], [0.87, -1.18], [0.91, -1.18], [0.95, -1.18], [0.76, -1.22], [0.8, -1.22], [0.84, -1.22], [0.88, -1.22], [0.92, -1.22], [0.96, -1.23], [0.99, -1.23],
  [0.78, -1.27], [0.82, -1.26], [0.86, -1.27], [0.9, -1.27], [0.94, -1.27], [0.98, -1.28], [1.02, -1.27], [0.83, -1.31], [0.87, -1.31], [0.91, -1.31], [0.95, -1.31], [0.99, -1.32], [1.03, -1.31], [0.86, -1.35], [0.9, -1.36], [0.94, -1.36], [0.98, -1.35], [1.02, -1.36], [1.05, -1.35], [1.06, -1.39], [1.0, -1.4], [1.03, -1.4], [1.07, -1.43], [1.04, -1.43], [1.06, -1.48], [1.09, -1.48], [1.08, -1.52], [1.11, -1.55], [1.08, -1.56], [1.1, -1.6],
];

const legendLeft = [
  { label: "PA", kind: "pa" },
  { label: "PE", kind: "pe" },
  { label: "PP", kind: "pp" },
];
const legendRight = [
  { label: "PS", kind: "ps" },
  { label: "PET", kind: "pet" },
  { label: "PVC", kind: "pvc" },
];

// matplotlib's triangles are as wide as they are high, d3's are equilateral
const boxTriangle: d3.SymbolType = {
  draw(ctx, size) {
    const r = Math.sqrt(size) / 2;
    ctx.moveTo(0, -r);
    ctx.lineTo(r, r);
    ctx.lineTo(-r, r);
    ctx.closePath();
  },
};

const symbolFor: Record<string, { type: d3.SymbolType; fill: string; flip?: boolean }> = {
  pa: { type: d3.symbolSquare, fill: "#0000ff" },
  pe: { type: d3.symbolX, fill: "#ff0000" },
  pp: { type: d3.symbolCircle, fill: "#bfbf00" },
  ps: { type: boxTriangle, fill: "#ee82ee" },
  pet: { type: boxTriangle, fill: "#008000", flip: true },
  pvc: { type: d3.symbolStar, fill: "#00bfbf" },
};

function symbolPath(kind: string, size: number) {
  return d3.symbol(symbolFor[kind].type, size)() as string;
}

function Marks({ pts, kind, size, x, y }: { pts: Pt[]; kind: string; size: number; x: d3.ScaleLinear<number, number>; y: d3.ScaleLinear<number, number> }) {
  const s = symbolFor[kind];
  const d = symbolPath(kind, size);
  const rot = s.flip ? " rotate(180)" : "";
  return (
    <g>
      {pts.map((p, i) =>
        kind === "pe" ? (
          <path key={i} d={d} transform={`translate(${x(p[0])},${y(p[1])})`} fill="none" stroke={s.fill} strokeOpacity={0.9} strokeWidth={1.8} />
        ) : (
          <path key={i} d={d} transform={`translate(${x(p[0])},${y(p[1])})${rot}`} fill={s.fill} fillOpacity={0.8} stroke="#000" strokeOpacity={0.95} strokeWidth={1.3} />
        )
      )}
    </g>
  );
}

function LegendKey({ kind, cx, cy }: { kind: string; cx: number; cy: number }) {
  const s = symbolFor[kind];
  const sizes: Record<string, number> = { pa: 625, pe: 440, pp: 490, ps: 625, pet: 625, pvc: 170 };
  const d = symbolPath(kind, sizes[kind]);
  const rot = s.flip ? " rotate(180)" : "";
  if (kind === "pe") {
    return <path d={d} transform={`translate(${cx},${cy})`} fill="none" stroke={s.fill} strokeOpacity={0.8} strokeWidth={2.2} />;
  }
  return <path d={d} transform={`translate(${cx},${cy})${rot}`} fill={s.fill} fillOpacity={0.8} stroke="#000" strokeOpacity={0.6} strokeWidth={1.3} />;
}

export default function App() {
  const x = d3.scaleLinear().domain([xMin, xMax]).range([157, 891]);
  const y = d3.scaleLinear().domain([yMin, yMax]).range([844, 100]);
  const line = d3.line<Pt>().x((d) => x(d[0])).y((d) => y(d[1]));
  const curve = d3.line<Pt>().x((d) => x(d[0])).y((d) => y(d[1])).curve(d3.curveCatmullRom.alpha(0.5));

  const seg = (pts: Pt[]) => curve(pts) as string;
  const rev = (pts: Pt[]) => [...pts].reverse();
  // glue boundary pieces into one closed region
  const region = (...parts: string[]) => parts.map((s, i) => (i ? s.replace(/^M/, "L") : s)).join("") + "Z";

  const red = region(seg(redArc), seg(redLine), line([[xMax, redLine[3][1]], [xMax, yMax]]) as string);
  const cyan = region(seg(cyanArc), line(cyanTip) as string, seg(yellowTop), seg(blueTop), line([[xMax, blueTop[3][1]], [xMax, redLine[3][1]]]) as string, seg(rev(redLine)), line([redArc[5], redArc[4]]) as string);
  const yellow = region(seg(yellowTop), seg(yellowBlue), seg(rev(greenYellow)));
  const green = region(seg(greenTop), line(cyanTip) as string, seg(greenYellow), line([[xMin, yMin], [xMin, greenTop[0][1]]]) as string);
  const blue = region(seg(blueTop), line([[xMax, yMin], [yellowBlue[7][0], yMin]]) as string, seg(rev(yellowBlue)));

  const edge = (pts: Pt[], color: string) => <path d={seg(pts)} fill="none" stroke={color} strokeWidth={1.4} />;

  return (
    <svg width={891} height={918} style={{ position: "absolute", left: 0, top: 0, display: "block" }} fontFamily="'DejaVu Sans', sans-serif">
      <defs>
        {/* below 0.8 the browser's blur rounds down to nothing */}
        <filter id="soft" x="-5%" y="-5%" width="110%" height="110%">
          <feGaussianBlur stdDeviation={0.8} />
        </filter>
        <clipPath id="plot">
          <rect x={157} y={100} width={734} height={744} />
        </clipPath>
      </defs>
      <rect width={891} height={918} fill="#fff" />
      <g filter="url(#soft)">
        <g clipPath="url(#plot)">
          <rect x={157} y={100} width={734} height={744} fill="#f8cdf8" />
          <path d={cyan} fill="#99e5e5" />
          <path d={red} fill="#ff9999" />
          <path d={green} fill="#99cc99" />
          <path d={yellow} fill="#e5e599" />
          <path d={blue} fill="#9e9eff" />
          {edge(redArc, "#d8a080")}
          {edge(redLine, "#3f8f7f")}
          {edge(cyanArc, "#3f8f7f")}
          {edge(yellowTop, "#4f9f8a")}
          {edge(blueTop, "#3f8f9f")}
          {edge(yellowBlue, "#d07a6a")}
          {edge(greenYellow, "#6f9f6f")}
          {edge(greenTop, "#5f8f6f")}
          {edge(cyanTip, "#7fc0a0")}

          <Marks pts={[...paPts, ...paCore]} kind="pa" size={72} x={x} y={y} />
          <Marks pts={[...pePts, ...peCore, ...peFill]} kind="pe" size={70} x={x} y={y} />
          <Marks pts={[...ppPts, ...ppCore]} kind="pp" size={76} x={x} y={y} />
          <Marks pts={[...psPts, ...psCore, ...psFill]} kind="ps" size={64} x={x} y={y} />
          <Marks pts={[...petPts, ...petCore, ...petFill]} kind="pet" size={64} x={x} y={y} />
          <Marks pts={[...pvcPts, ...pvcCore, ...pvcFill]} kind="pvc" size={26} x={x} y={y} />

          <rect x={157.5} y={648} width={438.5} height={196} rx={8} ry={8} fill="#fff" fillOpacity={0.8} stroke="#ccc" strokeOpacity={0.8} />
        </g>

        {legendLeft.map((d, i) => (
          <LegendKey key={d.label} kind={d.kind} cx={224} cy={691 + i * 56} />
        ))}
        {legendRight.map((d, i) => (
          <LegendKey key={d.label} kind={d.kind} cx={416} cy={691 + i * 56} />
        ))}

        <g stroke="#111" strokeWidth={1.4} fill="none">
          <line x1={157} y1={100} x2={891} y2={100} />
          <line x1={157} y1={100} x2={157} y2={844} />
          <line x1={157} y1={844} x2={891} y2={844} />
        </g>

        {/* thin stroke keeps the blurred text as dark as in the picture */}
        <g stroke="#000" strokeWidth={0.5}>
          {legendLeft.map((d, i) => (
            <text key={d.label} x={291} y={703 + i * 56} fontSize={47.3} fill="#000">{d.label}</text>
          ))}
          {legendRight.map((d, i) => (
            <text key={d.label} x={483} y={703 + i * 56} fontSize={47.3} fill="#000">{d.label}</text>
          ))}
          <text x={537.5} y={89} textAnchor="middle" fontSize={54.7} fill="#000">SVM with RBF kernel</text>
          <text x={537.5} y={911} textAnchor="middle" fontSize={54.3} fill="#000">Component 1</text>
          <text transform="translate(92,474) rotate(-90)" textAnchor="middle" fontSize={54.3} fill="#000">Component 2</text>
        </g>

        {xTicks.map((t) => (
          <g key={t} transform={`translate(${x(t)},844)`}>
            <line y2={5} stroke="#111" />
            <text y={19} textAnchor="middle" fontSize={12.5} fill="#000">{d3.format(".1f")(t).replace("-", "\u2212")}</text>
          </g>
        ))}
        {yTicks.map((t) => (
          <g key={t} transform={`translate(157,${y(t)})`}>
            <line x2={-5} stroke="#111" />
            <text x={-8} y={4.5} textAnchor="end" fontSize={12.5} fill="#000">{d3.format(".1f")(t).replace("-", "\u2212")}</text>
          </g>
        ))}
      </g>
    </svg>
  );
}
